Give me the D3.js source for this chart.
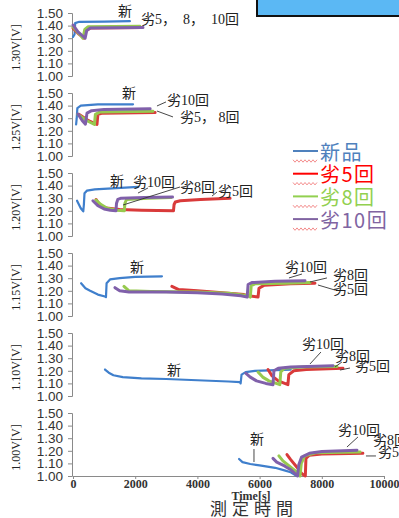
<!DOCTYPE html>
<html>
<head>
<meta charset="utf-8">
<script src="https://cdn.jsdelivr.net/npm/d3@7"></script>
<style>
  body { margin: 0; background: #fff; }
  svg { display: block; }
</style>
</head>
<body>
<script>
const width = 399;
const height = 518;

const panelTitles = ["1.30V[V]", "1.25V[V]", "1.20V[V]", "1.15V[V]", "1.10V[V]", "1.00V[V]"];
const yTicks = [1.00, 1.10, 1.20, 1.30, 1.40, 1.50];
const xTicks = [0, 2000, 4000, 6000, 8000, 10000];
const seriesNames = ["新品", "劣5回", "劣8回", "劣10回"];
const lineColors = ["#3f7fcc", "#d93a3a", "#97c94f", "#8060aa"];
const legendColors = ["#4f81bd", "#ff0000", "#92d050", "#8064a2"];

// [time s, voltage V]
const new130 = [[0,1.31],[50,1.33],[70,1.42],[200,1.43],[1000,1.432],[1830,1.435]];
const r5_130 = [[0,1.38],[200,1.33],[360,1.30],[420,1.36],[550,1.38],[2200,1.385]];
const r8_130 = [[0,1.39],[220,1.33],[320,1.30],[380,1.37],[480,1.39],[2150,1.395]];
const r10_130 = [[0,1.405],[160,1.35],[390,1.30],[440,1.36],[550,1.38],[2250,1.385]];

const new125 = [[100,1.25],[120,1.30],[140,1.38],[250,1.40],[800,1.41],[1930,1.41]];
const r5_125 = [[200,1.33],[500,1.28],[770,1.25],[800,1.33],[950,1.34],[2640,1.345]];
const r8_125 = [[160,1.33],[450,1.28],[690,1.25],[720,1.33],[870,1.35],[2570,1.355]];
const r10_125 = [[160,1.333],[300,1.28],[400,1.253],[450,1.34],[600,1.36],[1000,1.37],[2480,1.375]];

const new120 = [[130,1.28],[250,1.22],[330,1.195],[350,1.25],[370,1.34],[450,1.36],[700,1.37],[1400,1.38],[2100,1.39]];
const r5_120 = [[740,1.29],[850,1.25],[1000,1.225],[1500,1.21],[2200,1.205],[3230,1.20],[3250,1.25],[3290,1.27],[3450,1.28],[4100,1.29],[5050,1.30]];
const r8_120 = [[740,1.285],[900,1.25],[1100,1.22],[1400,1.205],[1650,1.20],[1670,1.26],[1720,1.29],[2400,1.30],[3150,1.305]];
const r10_120 = [[640,1.28],[800,1.24],[1000,1.215],[1200,1.205],[1380,1.20],[1400,1.26],[1440,1.29],[1550,1.30],[2300,1.305],[3200,1.31]];

const new115 = [[260,1.26],[400,1.22],[550,1.20],[800,1.17],[1030,1.155],[1060,1.15],[1080,1.26],[1190,1.29],[1500,1.30],[2000,1.31],[2860,1.315]];
const r5_115 = [[3180,1.235],[3400,1.21],[4000,1.20],[5000,1.18],[5500,1.17],[5650,1.16],[5950,1.15],[5980,1.22],[6150,1.245],[7000,1.255],[7780,1.26]];
const r8_115 = [[1640,1.235],[1800,1.20],[2500,1.195],[4000,1.19],[5000,1.18],[5650,1.16],[5700,1.15],[5730,1.24],[5850,1.255],[6800,1.26],[7620,1.265]];
const r10_115 = [[1350,1.225],[1500,1.20],[1800,1.19],[3000,1.19],[4000,1.185],[4800,1.175],[5400,1.16],[5600,1.15],[5630,1.25],[5750,1.265],[6500,1.275],[7460,1.28]];

const new110 = [[1030,1.21],[1150,1.185],[1300,1.165],[1600,1.15],[2200,1.14],[3000,1.135],[4000,1.125],[5000,1.115],[5370,1.11],[5390,1.10],[5420,1.17],[5550,1.19],[5850,1.20],[7000,1.21]];
const r5_110 = [[6270,1.21],[6400,1.16],[6600,1.12],[6910,1.09],[6940,1.17],[7100,1.20],[7500,1.21],[8680,1.22]];
const r8_110 = [[5950,1.19],[6100,1.15],[6300,1.12],[6650,1.09],[6680,1.19],[6800,1.22],[7400,1.23],[8490,1.235]];
const r10_110 = [[5560,1.18],[5700,1.15],[5900,1.12],[6200,1.10],[6430,1.09],[6460,1.20],[6600,1.22],[7000,1.23],[8360,1.24]];

const new100 = [[5340,1.135],[5450,1.11],[5700,1.095],[6000,1.085],[6500,1.065],[6800,1.045],[7000,1.03],[7200,1.00]];
const r5_100 = [[6880,1.17],[7000,1.13],[7200,1.07],[7350,1.02],[7470,1.00],[7490,1.14],[7600,1.165],[8000,1.175],[9320,1.18]];
const r8_100 = [[6620,1.16],[6750,1.12],[7000,1.07],[7200,1.03],[7300,1.00],[7340,1.10],[7450,1.16],[7800,1.185],[9230,1.19]];
const r10_100 = [[6430,1.14],[6550,1.11],[6800,1.08],[7000,1.05],[7220,1.00],[7260,1.09],[7350,1.15],[7600,1.18],[8000,1.195],[9130,1.205]];

const panelSeries = [
  [new130, r5_130, r8_130, r10_130],
  [new125, r5_125, r8_125, r10_125],
  [new120, r5_120, r8_120, r10_120],
  [new115, r5_115, r8_115, r10_115],
  [new110, r5_110, r8_110, r10_110],
  [new100, r5_100, r8_100, r10_100]
];

// annotations: [text, time, voltage] and leader lines [[t,v],[t,v]]
const notes = [
  [["新", 1447, 1.508], ["劣5，  8，  10回", 2186, 1.452]],
  [["新", 1575, 1.50], ["劣10回", 3022, 1.444], ["劣5， 8回", 3440, 1.302]],
  [["新", 1190, 1.429], ["劣10回", 1929, 1.421], ["劣8回", 3440, 1.381], ["劣5回", 4662, 1.357]],
  [["新", 1833, 1.381], ["劣10回", 6816, 1.381], ["劣8回", 8359, 1.325], ["劣5回", 8359, 1.214]],
  [["新", 3022, 1.206], ["劣10回", 7362, 1.405], ["劣8回", 8423, 1.317], ["劣5回", 9066, 1.238]],
  [["新", 5690, 1.286], ["劣10回", 8520, 1.365], ["劣8回", 9645, 1.278], ["劣5回", 9806, 1.19]]
];
const leaders = [
  [],
  [[[2700,1.397],[2990,1.429]], [[2700,1.357],[3215,1.31]]],
  [[[2090,1.341],[2411,1.381]], [[1608,1.246],[3440,1.389]], [[4469,1.317],[4630,1.349]]],
  [[[6944,1.302],[7362,1.333]], [[7620,1.27],[8166,1.302]], [[7877,1.246],[8423,1.206]]],
  [[[7620,1.254],[7973,1.349]], [[8423,1.23],[8648,1.27]], [[8584,1.206],[8906,1.222]]],
  [[[5819,1.214],[5819,1.111]], [[8809,1.23],[9163,1.31]], [[9420,1.159],[9741,1.159]]]
];

const svg = d3.select("body").append("svg")
  .attr("width", width)
  .attr("height", height);

const xScale = d3.scaleLinear().domain([0, 10000]).range([73, 384]);

const serif = "'Liberation Serif', 'Noto Sans CJK JP', serif";
const sans = "'Liberation Sans', Arial, sans-serif";

// blue box in top right corner
svg.append("rect")
  .attr("x", 257).attr("y", -3)
  .attr("width", 146).attr("height", 19)
  .attr("fill", "#5bb8f4")
  .attr("stroke", "#111")
  .attr("stroke-width", 2);

panelSeries.forEach((series, i) => {
  const top = 13 + i * 80;
  const bottom = top + 63;
  const yScale = d3.scaleLinear().domain([1.0, 1.5]).range([bottom, top]);
  const g = svg.append("g");

  const yAxis = g.append("g")
    .attr("transform", "translate(72,0)")
    .call(d3.axisLeft(yScale).tickValues(yTicks).tickFormat(d3.format(".2f")).tickSize(4).tickPadding(5));
  yAxis.selectAll("path, line").attr("stroke", "#8a8a8a");
  yAxis.selectAll("text")
    .style("font-family", sans)
    .style("font-size", "13.5px")
    .attr("fill", "#333");

  g.append("text")
    .attr("transform", `translate(20,${(top + bottom) / 2 + 3}) rotate(-90)`)
    .attr("text-anchor", "middle")
    .style("font-family", serif)
    .style("font-size", "12px")
    .attr("fill", "#222")
    .text(panelTitles[i]);

  if (i === panelSeries.length - 1) {
    const xAxis = g.append("g")
      .attr("transform", `translate(0,${bottom})`)
      .call(d3.axisBottom(xScale).tickValues(xTicks).tickFormat(d3.format("d")).tickSize(3).tickPadding(0));
    xAxis.selectAll("path, line").attr("stroke", "#8a8a8a");
    xAxis.selectAll("text")
      .style("font-family", serif)
      .style("font-size", "12px")
      .style("font-weight", "bold")
      .attr("fill", "#333");
  }

  const line = d3.line()
    .x(d => xScale(d[0]))
    .y(d => yScale(d[1]));

  series.forEach((pts, k) => {
    g.append("path")
      .datum(pts)
      .attr("d", line)
      .attr("fill", "none")
      .attr("stroke", lineColors[k])
      .attr("stroke-width", k === 0 ? 2.2 : 3)
      .attr("stroke-linejoin", "round")
      .attr("stroke-linecap", "round");
  });

  leaders[i].forEach(seg => {
    g.append("path")
      .datum(seg)
      .attr("d", line)
      .attr("stroke", "#333")
      .attr("stroke-width", 0.9);
  });

  notes[i].forEach(n => {
    g.append("text")
      .attr("x", xScale(n[1]))
      .attr("y", yScale(n[2]))
      .attr("dominant-baseline", "central")
      .style("font-family", serif)
      .style("font-size", "14px")
      .style("white-space", "pre")
      .attr("fill", "#222")
      .text(n[0]);
  });
});

// axis titles
svg.append("text")
  .attr("x", 251).attr("y", 500)
  .attr("text-anchor", "middle")
  .style("font-family", serif)
  .style("font-size", "12px")
  .style("font-weight", "bold")
  .attr("fill", "#333")
  .text("Time[s]");

svg.append("text")
  .attr("x", 254).attr("y", 515)
  .attr("text-anchor", "middle")
  .style("font-family", "'Noto Sans CJK JP', sans-serif")
  .style("font-size", "17px")
  .style("letter-spacing", "5px")
  .attr("fill", "#333")
  .text("測定時間");

// legend
const legend = svg.append("g");
seriesNames.forEach((name, k) => {
  const cy = 151 + k * 22.7;
  legend.append("line")
    .attr("x1", 293).attr("x2", 318)
    .attr("y1", cy).attr("y2", cy)
    .attr("stroke", legendColors[k])
    .attr("stroke-width", 2);
  const wave = d3.range(0, 13).map(j => [293 + j * 2, cy + 10 + (j % 2 ? 1.2 : -1.2)]);
  legend.append("path")
    .attr("d", d3.line()(wave))
    .attr("fill", "none")
    .attr("stroke", "#f07070")
    .attr("stroke-width", 0.8);
  legend.append("text")
    .attr("x", 320).attr("y", cy)
    .attr("dominant-baseline", "central")
    .style("font-family", "'Noto Sans CJK JP', sans-serif")
    .style("font-size", "20px")
    .style("letter-spacing", "1.5px")
    .attr("fill", legendColors[k])
    .text(name);
});
</script>
</body>
</html>
